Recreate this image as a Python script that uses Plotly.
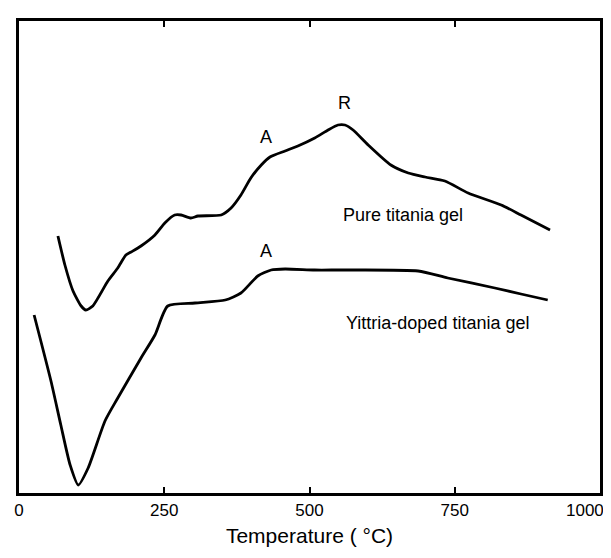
import plotly.graph_objects as go

# Pure titania gel (temperature °C, relative signal)
pure_x = [67, 79, 93, 107, 115, 127, 153, 170, 184, 193, 210, 234, 251, 268, 279, 296, 308,
          348, 365, 382, 399, 417, 432, 458, 480, 509, 532, 549, 561, 575, 601, 640, 670, 699,
          733, 773, 830, 864, 914]
pure_y = [257, 228, 202, 187, 183, 187, 212, 225, 238, 241, 247, 258, 270, 278, 278, 275, 277,
          278, 285, 298, 315, 328, 336, 342, 347, 355, 363, 368, 368, 363, 348, 328, 320, 316,
          312, 300, 288, 278, 263]

# Yittria-doped titania gel
ytt_x = [26, 55, 72, 88, 102, 119, 148, 170, 210, 234, 256, 303, 355, 382, 411, 434, 458, 509,
         561, 687, 738, 819, 864, 910]
ytt_y = [178, 112, 68, 28, 8, 25, 72, 95, 135, 158, 187, 190, 193, 200, 217, 223, 224, 223,
         223, 222, 215, 205, 199, 193]

x_ticks = [0, 250, 500, 750, 1000]
x_ticktext = ["0", "250", "500", "750", ""]   # last label drawn as annotation to fit the page
last_tick_label = "1000"
labels_text = ["A", "R", "A", "Pure titania gel", "Yittria-doped titania gel"]
labels_x = [425, 561, 425, 661, 721]
labels_y = [356, 390, 242, 278, 170]

fig = go.Figure()
for xs, ys in [(pure_x, pure_y), (ytt_x, ytt_y)]:
    fig.add_trace(go.Scatter(x=xs, y=ys, mode="lines",
                             line=dict(color="black", width=2.8, shape="spline", smoothing=0.6),
                             showlegend=False, hoverinfo="skip"))

for t, x, y in zip(labels_text, labels_x, labels_y):
    fig.add_annotation(x=x, y=y, text=t, showarrow=False,
                       font=dict(family="Liberation Sans, Arial", size=18, color="black"))

fig.add_annotation(x=x_ticks[-1], xref="x", y=0, yref="paper", text=last_tick_label,
                   showarrow=False, xanchor="right", yanchor="middle", xshift=5, yshift=-17,
                   borderpad=0,
                   font=dict(family="Liberation Sans, Arial", size=17, color="black"))

fig.update_layout(
    width=611, height=558,
    margin=dict(l=11, r=19, t=13, b=73, autoexpand=False),
    paper_bgcolor="white", plot_bgcolor="white",
    font=dict(family="Liberation Sans, Arial", color="black"),
    xaxis=dict(range=[0, 1000], tickvals=x_ticks, ticktext=x_ticktext,
               ticks="inside", ticklen=6, tickwidth=2, tickcolor="black",
               showline=True, linecolor="black", linewidth=2.5, mirror="ticks",
               showgrid=False, zeroline=False, tickfont=dict(size=17),
               ticklabelstandoff=0, automargin=False,
               title=dict(text="Temperature (\u00a0°C)", font=dict(size=21), standoff=10)),
    yaxis=dict(range=[0, 472], showticklabels=False, ticks="",
               showline=True, linecolor="black", linewidth=2.5, mirror=True,
               showgrid=False, zeroline=False, automargin=False),
)
fig.write_html("out.html")
